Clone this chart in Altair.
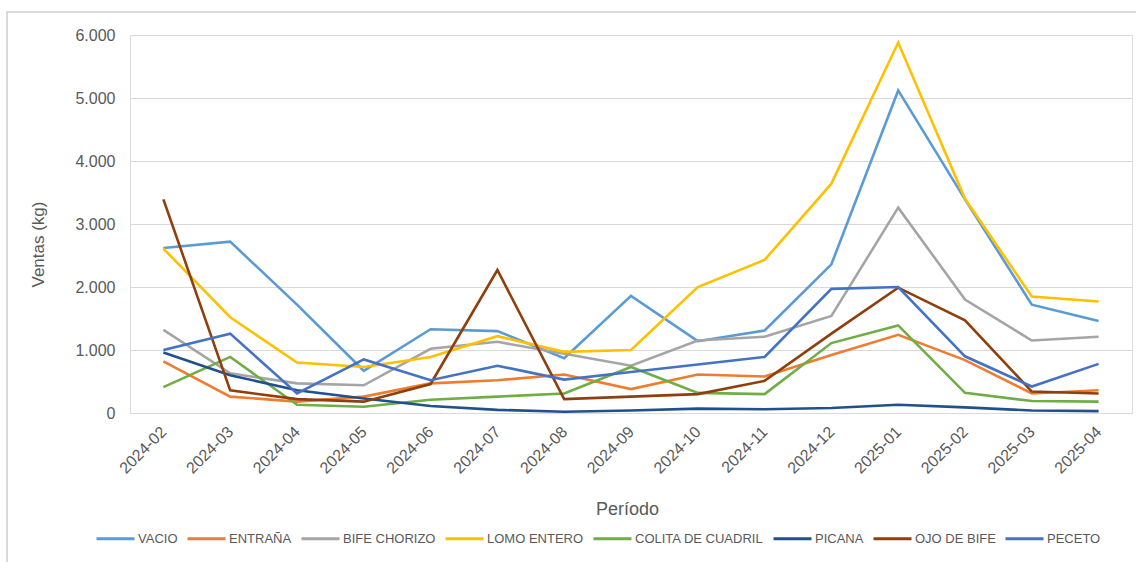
import altair as alt
import pandas as pd

# Monthly sales (kg) per cut
periodos = ["2024-02", "2024-03", "2024-04", "2024-05", "2024-06", "2024-07", "2024-08",
            "2024-09", "2024-10", "2024-11", "2024-12", "2025-01", "2025-02", "2025-03", "2025-04"]

vacio = [2620, 2720, 1720, 670, 1330, 1300, 870, 1860, 1140, 1310, 2360, 5120, 3390, 1720, 1460]
entrana = [820, 260, 180, 260, 470, 520, 610, 380, 610, 580, 920, 1240, 840, 310, 360]
bife_chorizo = [1320, 630, 470, 440, 1020, 1130, 940, 750, 1150, 1210, 1540, 3260, 1800, 1150, 1210]
lomo_entero = [2610, 1520, 800, 730, 890, 1220, 970, 1000, 2000, 2430, 3640, 5880, 3400, 1850, 1770]
colita_de_cuadril = [410, 890, 130, 100, 210, 260, 310, 730, 320, 300, 1110, 1390, 320, 190, 180]
picana = [960, 600, 360, 230, 110, 50, 20, 40, 70, 60, 80, 130, 90, 40, 30]
ojo_de_bife = [3390, 360, 220, 180, 460, 2270, 220, 260, 300, 510, 1260, 1990, 1470, 340, 310]
peceto = [1000, 1260, 310, 850, 520, 750, 530, 650, 770, 890, 1970, 2000, 900, 420, 780]

cortes = ["VACIO", "ENTRAÑA", "BIFE CHORIZO", "LOMO ENTERO",
          "COLITA DE CUADRIL", "PICANA", "OJO DE BIFE", "PECETO"]
series = [vacio, entrana, bife_chorizo, lomo_entero,
          colita_de_cuadril, picana, ojo_de_bife, peceto]
colores = ["#5B9BD5", "#ED7D31", "#A5A5A5", "#FFC000",
           "#70AD47", "#22508A", "#8F3F0C", "#4472C4"]

rows = []
for corte, valores in zip(cortes, series):
    for p, v in zip(periodos, valores):
        rows.append({"Período": p, "Corte": corte, "Ventas": v, "orden": cortes.index(corte)})
df = pd.DataFrame(rows)

TXT = "#595959"
GRID = "#D9D9D9"

lines = alt.Chart(df).mark_line(strokeWidth=2.6).encode(
    x=alt.X(
        "Período:N",
        sort=periodos,
        title="Período",
        axis=alt.Axis(
            labelAngle=-45,
            labelAlign="right",
            labelBaseline="middle",
            labelPadding=16,
            labelFontSize=16,
            labelColor=TXT,
            labelFont="Liberation Sans",
            ticks=False,
            domainColor=GRID,
            domainWidth=1.2,
            titleFont="Liberation Sans",
            titleFontSize=18,
            titleFontWeight="normal",
            titleColor=TXT,
            titleBaseline="middle",
            titleX=497,
            titleY=96,
        ),
    ),
    y=alt.Y(
        "Ventas:Q",
        title="Ventas (kg)",
        scale=alt.Scale(domain=[0, 6000], nice=False),
        axis=alt.Axis(
            values=[0, 1000, 2000, 3000, 4000, 5000, 6000],
            labelExpr="replace(format(datum.value, ',d'), ',', '.')",
            labelFontSize=16,
            labelColor=TXT,
            labelFont="Liberation Sans",
            labelPadding=15,
            ticks=False,
            domain=False,
            gridColor=GRID,
            gridWidth=1.2,
            titleFont="Liberation Sans",
            titleFontSize=17,
            titleFontWeight="normal",
            titleColor=TXT,
            titleAngle=-90,
            titleBaseline="middle",
            titleX=-92,
            titleY=209,
        ),
    ),
    color=alt.Color(
        "Corte:N",
        sort=cortes,
        scale=alt.Scale(domain=cortes, range=colores),
        legend=alt.Legend(
            title=None,
            orient="none",
            direction="horizontal",
            legendX=-35,
            legendY=483,
            symbolType="stroke",
            symbolSize=1444,
            symbolStrokeWidth=3,
            labelOffset=2,
            columnPadding=3,
            labelFont="Liberation Sans",
            labelFontSize=13,
            labelColor=TXT,
        ),
    ),
    order=alt.Order("orden:Q"),
)

# light frame around the chart area
frame = alt.Chart(df).mark_rect(fill=None, stroke=GRID, strokeWidth=1.2).encode(
    x=alt.value(-123), x2=alt.value(1030), y=alt.value(-23), y2=alt.value(560)
)

chart = alt.layer(frame, lines).properties(
    width=1002,
    height=378,
    autosize=alt.AutoSizeParams(type="none"),
    padding={"left": 130, "top": 35, "right": 4, "bottom": 149},
).configure_view(stroke=None).configure(background="white")

chart.save("out.html", embed_options={"renderer": "svg", "actions": False})
